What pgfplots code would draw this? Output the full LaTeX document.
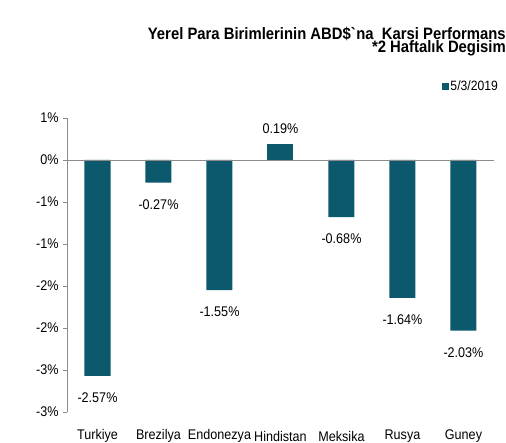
\documentclass[border=0pt]{standalone}
\usepackage{pgfplots}
\pgfplotsset{compat=1.18}
\usepackage{fontspec}
\setmainfont{Liberation Sans}[FakeStretch=0.9]
\definecolor{barc}{RGB}{12,88,108}
\definecolor{axc}{RGB}{140,140,140}
\begin{document}
\begin{tikzpicture}
\path[use as bounding box] (-67pt,-31pt) rectangle (439pt,412pt);
\node[anchor=north east,align=right,font=\fontsize{16.5}{13.5}\selectfont\bfseries,inner sep=0pt] at (439pt,412pt-27pt) {Yerel Para Birimlerinin ABD\$\textasciigrave na\ \ Karsi Performans\\*2 Haftal\i k Degisim};
\begin{axis}[
  scale only axis, width=427pt, height=294pt,
  xmin=-0.5, xmax=6.5, ymin=-3, ymax=0.5,
  ybar, bar width=26pt, bar shift=0pt,
  axis y line*=left, axis x line*=bottom,
  x axis line style={draw=none},
  y axis line style={draw=axc},
  xtick={0,1,2,3,4,5,6},
  xticklabels={Turkiye,Brezilya,Endonezya,Hindistan,Meksika,Rusya,Guney},
  xtick style={draw=none},
  xticklabel style={font=\fontsize{14}{14}\selectfont, anchor=center, yshift=-20pt},
  ytick={-3,-2.5,-2,-1.5,-1,-0.5,0,0.5},
  yticklabels={-3\%,-3\%,-2\%,-2\%,-1\%,-1\%,0\%,1\%},
  yticklabel style={font=\fontsize{14}{14}\selectfont, xshift=-1pt},
  ytick style={draw=axc},
  tick align=outside, major tick length=4pt,
  clip=false,
  /pgf/number format/assume math mode=true,
  legend style={at={(1,1)}, anchor=south east, yshift=24pt, xshift=6pt, draw=none, fill=none, font=\fontsize{13.5}{14}\selectfont, inner sep=0pt},
  legend image code/.code={\fill[barc] (0pt,-3.5pt) rectangle (7pt,3.5pt);},
  legend cell align=left,
]
\addplot[fill=barc, draw=none,
  nodes near coords={\pgfmathprintnumber[fixed,precision=2,fixed zerofill,assume math mode=true]{\pgfplotspointmeta}\%},
  nodes near coords style={font=\fontsize{14}{14}\selectfont, anchor=center, yshift=-22pt}]
  coordinates {(0,-2.57) (1,-0.27) (2,-1.55) (4,-0.68) (5,-1.64) (6,-2.03)};
\addlegendentry{5/3/2019}
\addplot[fill=barc, draw=none, forget plot,
  nodes near coords={\pgfmathprintnumber[fixed,precision=2,fixed zerofill,assume math mode=true]{\pgfplotspointmeta}\%},
  nodes near coords style={font=\fontsize{14}{14}\selectfont, anchor=center, yshift=15pt}]
  coordinates {(3,0.19)};
\draw[axc] (axis cs:-0.5,0) -- (axis cs:6.5,0);
\end{axis}
\end{tikzpicture}
\end{document}
